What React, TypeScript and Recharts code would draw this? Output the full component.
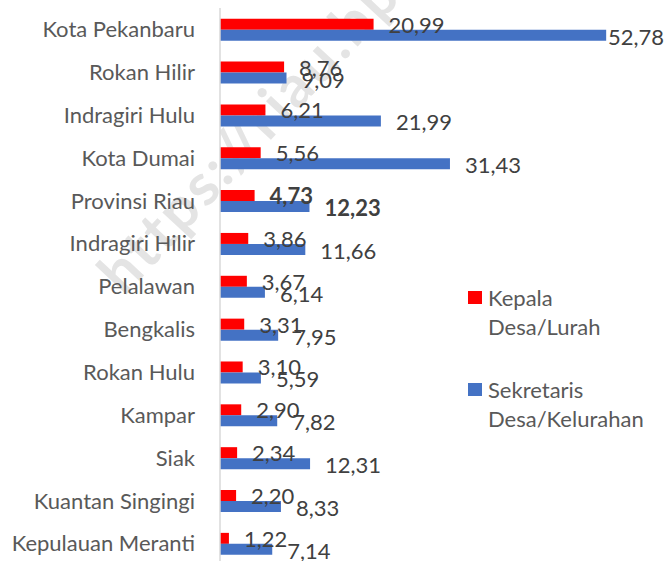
import React from 'react';
import { BarChart, Bar, XAxis, YAxis, LabelList, Legend } from 'recharts';

const categories = [
  'Kota Pekanbaru',
  'Rokan Hilir',
  'Indragiri Hulu',
  'Kota Dumai',
  'Provinsi Riau',
  'Indragiri Hilir',
  'Pelalawan',
  'Bengkalis',
  'Rokan Hulu',
  'Kampar',
  'Siak',
  'Kuantan Singingi',
  'Kepulauan Meranti',
];
const kepalaDesa = [20.99, 8.76, 6.21, 5.56, 4.73, 3.86, 3.67, 3.31, 3.1, 2.9, 2.34, 2.2, 1.22];
const sekretarisDesa = [52.78, 9.09, 21.99, 31.43, 12.23, 11.66, 6.14, 7.95, 5.59, 7.82, 12.31, 8.33, 7.14];
const seriesNames = ['Kepala Desa/Lurah', 'Sekretaris Desa/Kelurahan'];
const boldCategory = 'Provinsi Riau';

const data = categories.map((c, i) => ({
  name: c,
  kepala: kepalaDesa[i],
  sekretaris: sekretarisDesa[i],
}));

const FONT = 'Lato, "Noto Sans", sans-serif';
const fmt = (v: number) => Number(v).toFixed(2).replace('.', ',');

const makeLabel = (dy: number) => (props: any) => {
  const vb = props.viewBox && props.viewBox.width !== undefined ? props.viewBox : props;
  const { x, y, width, height } = vb;
  const idx = props.index;
  const bold = idx !== undefined && categories[idx] === boldCategory;
  const lx = Math.min(x + width + 15, 608);
  return (
    <text
      x={lx}
      y={y + height / 2 + dy}
      dominantBaseline="central"
      fill="#404040"
      fontSize={22}
      fontFamily={FONT}
      fontWeight={bold ? 700 : 400}
    >
      {fmt(props.value)}
    </text>
  );
};

const renderLegend = (props: any) => {
  const payload = props.payload || [];
  return (
    <div style={{ fontFamily: FONT, fontSize: 22, color: '#595959', lineHeight: '28.5px', textAlign: 'left' }}>
      {payload.map((p: any, i: number) => {
        const name = String(p.value);
        const sp = name.indexOf(' ');
        return (
          <div key={i} style={{ display: 'flex', marginBottom: i === 0 ? 35 : 0 }}>
            <div style={{ width: 14, height: 13, background: p.color, marginTop: 7, marginRight: 6, flex: 'none' }} />
            <div>
              {name.slice(0, sp)}
              <br />
              {name.slice(sp + 1)}
            </div>
          </div>
        );
      })}
    </div>
  );
};

export default function App() {
  return (
    <div style={{ position: 'fixed', left: 0, top: 0, width: 666, height: 561, overflow: 'hidden', background: '#fff' }}>
      <div
        style={{
          position: 'absolute',
          left: 108,
          top: 252,
          fontFamily: FONT,
          fontWeight: 700,
          fontSize: 58,
          letterSpacing: 3,
          color: '#e4e4e4',
          whiteSpace: 'nowrap',
          transformOrigin: '0 50%',
          transform: 'rotate(-47deg)',
          lineHeight: '60px',
        }}
      >
        https://riau.bps.go.id
      </div>
      <div style={{ position: 'absolute', left: 0, top: 0 }}>
        <BarChart
          width={666}
          height={565}
          data={data}
          layout="vertical"
          margin={{ top: 8, right: 7, bottom: 0, left: 0 }}
          barCategoryGap="25%"
          barGap={0}
        >
          <XAxis type="number" domain={[0, 60]} hide />
          <YAxis
            type="category"
            dataKey="name"
            width={220}
            axisLine={{ stroke: '#d9d9d9', strokeWidth: 1.5 }}
            tickLine={false}
            tickSize={0}
            tickMargin={25}
            interval={0}
            tick={{ fill: '#595959', fontSize: 22, fontFamily: FONT }}
          />
          <Legend
            layout="horizontal"
            align="center"
            verticalAlign="middle"
            content={renderLegend}
            wrapperStyle={{ left: 468, top: 284, width: 200 }}
          />
          <Bar dataKey="kepala" name={seriesNames[0]} fill="#ff0000" isAnimationActive={false}>
            <LabelList dataKey="kepala" content={makeLabel(0)} />
          </Bar>
          <Bar dataKey="sekretaris" name={seriesNames[1]} fill="#4472c4" isAnimationActive={false}>
            <LabelList dataKey="sekretaris" content={makeLabel(1)} />
          </Bar>
        </BarChart>
      </div>
    </div>
  );
}
